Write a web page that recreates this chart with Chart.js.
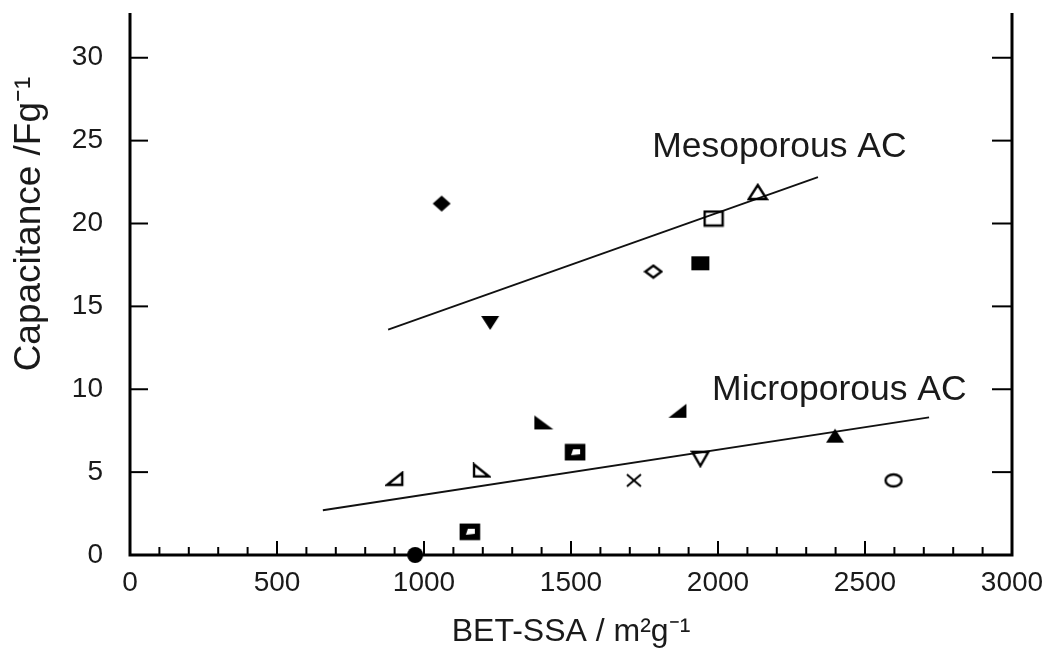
<!DOCTYPE html>
<html>
<head>
<meta charset="utf-8">
<script src="https://cdn.jsdelivr.net/npm/chart.js@4.4.1/dist/chart.umd.min.js"></script>
<style>
  html, body { margin: 0; padding: 0; background: #fff; }
</style>
</head>
<body>
<canvas id="chart" width="1050" height="651"></canvas>
<script>
// measured points (BET surface area vs capacitance)
const bet = [1060, 1225, 1780, 1940, 1985, 2135, 902, 1194, 1406, 1514, 1156, 1862, 1714, 1940, 2398, 2597, 970];
const capacitance = [21.2, 14.0, 17.1, 17.6, 20.3, 21.9, 4.6, 5.1, 8.0, 6.2, 1.4, 8.7, 4.5, 5.8, 7.2, 4.5, 0.0];
const markers = ['dia', 'invTriF', 'diaO', 'sqF', 'sqO', 'triO', 'rtBR', 'rtBL', 'rtBLF', 'sqHalf', 'sqHalf', 'rtBRF', 'x', 'invTriO', 'triF', 'circO', 'circF'];

// fit lines
const mesoFitX = [878, 2340];
const mesoFitY = [13.6, 22.8];
const microFitX = [656, 2718];
const microFitY = [2.7, 8.3];

const xTicks = [0, 500, 1000, 1500, 2000, 2500, 3000];
const yTicks = [0, 5, 10, 15, 20, 25, 30];

const FONT = '"Liberation Sans", Arial, sans-serif';
const INK = '#1a1a1a';

function mk(w, h, fn) {
  const c = document.createElement('canvas');
  c.width = w; c.height = h;
  const g = c.getContext('2d');
  g.fillStyle = '#000'; g.strokeStyle = '#000'; g.lineWidth = 2.4; g.lineJoin = 'miter';
  fn(g, w, h);
  return c;
}
function poly(g, pts) {
  g.beginPath();
  g.moveTo(pts[0][0], pts[0][1]);
  for (let i = 1; i < pts.length; i++) g.lineTo(pts[i][0], pts[i][1]);
  g.closePath();
}

const shapes = {
  dia: mk(20, 18, (g) => { poly(g, [[10, 1], [19, 9], [10, 17], [1, 9]]); g.fill(); }),
  diaO: mk(20, 16, (g) => { poly(g, [[10, 2], [18, 8], [10, 14], [2, 8]]); g.stroke(); }),
  invTriF: mk(20, 16, (g) => { poly(g, [[1, 1], [19, 1], [10, 15]]); g.fill(); }),
  invTriO: mk(20, 18, (g) => { poly(g, [[2, 2], [18, 2], [10, 16]]); g.stroke(); }),
  triF: mk(20, 16, (g) => { poly(g, [[10, 1], [19, 15], [1, 15]]); g.fill(); }),
  triO: mk(22, 18, (g) => { poly(g, [[11, 2], [20, 16], [2, 16]]); g.stroke(); }),
  sqF: mk(20, 16, (g) => { g.fillRect(1, 1, 18, 14); }),
  sqO: mk(22, 18, (g) => { g.strokeRect(2, 2, 18, 14); }),
  sqHalf: mk(22, 18, (g) => {
    g.fillRect(2, 2, 18, 14);
    g.fillStyle = '#fff';
    poly(g, [[9, 6], [16, 6], [16, 11], [7, 12]]); g.fill();
    g.lineWidth = 2.6; g.strokeRect(2, 2, 18, 14);
  }),
  rtBR: mk(20, 16, (g) => { poly(g, [[17, 2], [17, 14], [2, 14]]); g.stroke(); }),
  rtBL: mk(20, 16, (g) => { poly(g, [[3, 2], [18, 14], [3, 14]]); g.stroke(); }),
  rtBLF: mk(22, 16, (g) => { poly(g, [[2, 1], [21, 15], [2, 15]]); g.fill(); }),
  rtBRF: mk(20, 16, (g) => { poly(g, [[19, 1], [19, 15], [1, 15]]); g.fill(); }),
  x: mk(18, 16, (g) => {
    g.lineWidth = 2;
    g.beginPath(); g.moveTo(2, 2); g.lineTo(16, 14); g.moveTo(16, 2); g.lineTo(2, 14); g.stroke();
  }),
  circO: mk(22, 18, (g) => { g.beginPath(); g.ellipse(11, 9, 8, 6, 0, 0, Math.PI * 2); g.stroke(); }),
  circF: mk(18, 18, (g) => { g.beginPath(); g.arc(9, 9, 8, 0, Math.PI * 2); g.fill(); })
};

const frame = {
  id: 'frame',
  afterDraw(chart) {
    const { ctx, chartArea: a, scales: { x, y } } = chart;
    ctx.save();
    ctx.strokeStyle = '#000';
    // inward tick marks
    ctx.lineWidth = 2;
    for (let v = 0; v <= 3000; v += 100) {
      const px = x.getPixelForValue(v);
      const len = v % 500 === 0 ? 14 : 8;
      ctx.beginPath(); ctx.moveTo(px, a.bottom); ctx.lineTo(px, a.bottom - len); ctx.stroke();
    }
    yTicks.forEach(v => {
      const py = y.getPixelForValue(v);
      ctx.beginPath(); ctx.moveTo(a.left, py); ctx.lineTo(a.left + 18, py); ctx.stroke();
      ctx.beginPath(); ctx.moveTo(a.right, py); ctx.lineTo(a.right - 20, py); ctx.stroke();
    });
    // axes frame (open top)
    ctx.lineWidth = 3;
    ctx.beginPath();
    ctx.moveTo(a.left, a.top); ctx.lineTo(a.left, a.bottom);
    ctx.lineTo(a.right, a.bottom); ctx.lineTo(a.right, a.top);
    ctx.stroke();
    // labels
    ctx.fillStyle = INK;
    ctx.font = '35.5px ' + FONT;
    ctx.textAlign = 'left';
    ctx.textBaseline = 'alphabetic';
    ctx.fillText('Mesoporous AC', x.getPixelForValue(1776), y.getPixelForValue(24.0));
    ctx.fillText('Microporous AC', x.getPixelForValue(1980), y.getPixelForValue(9.35));
    ctx.font = '37px ' + FONT;
    ctx.translate(30, 224);
    ctx.rotate(-Math.PI / 2);
    ctx.textAlign = 'center';
    ctx.textBaseline = 'middle';
    ctx.fillText('Capacitance /Fg\u207B\u00B9', 0, 0);
    ctx.restore();
  }
};

new Chart(document.getElementById('chart'), {
  type: 'scatter',
  data: {
    datasets: [
      {
        data: bet.map((v, i) => ({ x: v, y: capacitance[i] })),
        pointStyle: markers.map(m => shapes[m]),
        pointRadius: 8,
        clip: false
      },
      {
        type: 'line',
        data: mesoFitX.map((v, i) => ({ x: v, y: mesoFitY[i] })),
        borderColor: '#111', borderWidth: 1.8, pointRadius: 0, fill: false
      },
      {
        type: 'line',
        data: microFitX.map((v, i) => ({ x: v, y: microFitY[i] })),
        borderColor: '#111', borderWidth: 1.8, pointRadius: 0, fill: false
      }
    ]
  },
  options: {
    responsive: false,
    animation: false,
    devicePixelRatio: 1,
    layout: { padding: { top: 13, right: 38, left: 0, bottom: 0 } },
    plugins: { legend: { display: false }, tooltip: { enabled: false } },
    scales: {
      x: {
        type: 'linear', min: 0, max: 3000,
        afterBuildTicks: s => { s.ticks = xTicks.map(v => ({ value: v })); },
        afterFit: s => { s.height = 96; s.paddingLeft = 0; s.paddingRight = 0; },
        grid: { display: false },
        border: { display: false },
        ticks: { font: { family: FONT, size: 28 }, color: INK, padding: 3, maxRotation: 0, callback: v => String(v) },
        title: { display: true, text: 'BET-SSA / m\u00B2g\u207B\u00B9', font: { family: FONT, size: 32 }, color: INK, padding: { top: 0, bottom: 0 } }
      },
      y: {
        type: 'linear', min: 0, max: 32.7,
        afterBuildTicks: s => { s.ticks = yTicks.map(v => ({ value: v })); },
        afterFit: s => { s.width = 130; s.paddingTop = 0; s.paddingBottom = 0; },
        grid: { display: false },
        border: { display: false },
        ticks: { font: { family: FONT, size: 28 }, color: INK, padding: 19, callback: v => String(v) }
      }
    }
  },
  plugins: [frame]
});
</script>
</body>
</html>
